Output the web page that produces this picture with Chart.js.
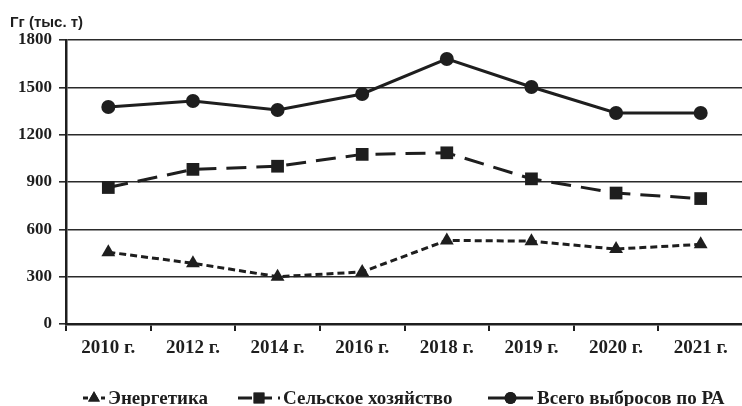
<!DOCTYPE html>
<html>
<head>
<meta charset="utf-8">
<script src="https://cdn.jsdelivr.net/npm/chart.js@4.4.0/dist/chart.umd.min.js"></script>
<style>
  html, body { margin: 0; padding: 0; background: #fff; overflow: hidden; }
  #wrap { width: 752px; height: 406px; }
</style>
</head>
<body>
<div id="wrap"><canvas id="chart" width="752" height="406"></canvas></div>
<script>
const years = ['2010 г.', '2012 г.', '2014 г.', '2016 г.', '2018 г.', '2019 г.', '2020 г.', '2021 г.'];
const energy = [455, 385, 300, 330, 530, 525, 475, 505];
const agriculture = [865, 980, 1000, 1075, 1085, 920, 830, 795];
const total = [1375, 1413, 1356, 1458, 1680, 1502, 1337, 1337];
const seriesNames = ['Энергетика', 'Сельское хозяйство', 'Всего выбросов по РА'];
const unitLabel = 'Гг (тыс. т)';
const yMin = 0, yMax = 1800, yStep = 300;

const ink = '#1e1e1e';
const serif = "'Liberation Serif', 'Times New Roman', serif";

// legend: line sample with marker, then text (x positions of each item)
const legendItems = [
    { ds: 0, x0: 83, x1: 105, text: 108 },
    { ds: 1, x0: 238, x1: 280, text: 283 },
    { ds: 2, x0: 488, x1: 533, text: 537 }
];

const extras = {
    id: 'extras',
    afterDraw(chart) {
        const ctx = chart.ctx;
        ctx.save();
        ctx.fillStyle = ink;
        ctx.font = "bold 15px 'Liberation Sans', Arial, sans-serif";
        ctx.textBaseline = 'alphabetic';
        ctx.fillText(unitLabel, 10, 27);

        const ly = 398;
        legendItems.forEach(item => {
            const ds = chart.data.datasets[item.ds];
            ctx.save();
            ctx.strokeStyle = ds.borderColor;
            ctx.lineWidth = ds.borderWidth;
            ctx.setLineDash(item.ds === 0 ? [5, 4] : item.ds === 1 ? [14, 6] : []);
            ctx.beginPath();
            ctx.moveTo(item.x0, ly);
            ctx.lineTo(item.x1, ly);
            ctx.stroke();
            ctx.restore();
            Chart.helpers.drawPoint(ctx, {
                pointStyle: ds.pointStyle,
                radius: ds.pointRadius * 0.85,
                borderWidth: 0
            }, (item.x0 + item.x1) / 2, ly);
            ctx.fillStyle = ink;
            ctx.fill();
            ctx.font = 'bold 19px ' + serif;
            ctx.textBaseline = 'alphabetic';
            ctx.fillText(seriesNames[item.ds], item.text, 404);
        });
        ctx.restore();
    }
};

const common = {
    borderColor: ink,
    backgroundColor: ink,
    pointBackgroundColor: ink,
    pointBorderColor: ink,
    pointBorderWidth: 0,
    borderWidth: 3,
    tension: 0,
    fill: false
};

new Chart(document.getElementById('chart'), {
    type: 'line',
    data: {
        labels: years,
        datasets: [
            Object.assign({}, common, {
                label: seriesNames[0], data: energy,
                borderDash: [7, 4], pointStyle: 'triangle', pointRadius: 8
            }),
            Object.assign({}, common, {
                label: seriesNames[1], data: agriculture,
                borderDash: [20, 10], pointStyle: 'rect', pointRadius: 9
            }),
            Object.assign({}, common, {
                label: seriesNames[2], data: total,
                pointStyle: 'circle', pointRadius: 7
            })
        ]
    },
    options: {
        responsive: false,
        animation: false,
        layout: { padding: { left: 0, top: 40, right: 2, bottom: 42 } },
        plugins: {
            legend: { display: false },
            tooltip: { enabled: false }
        },
        scales: {
            x: {
                offset: true,
                grid: {
                    offset: true,
                    drawOnChartArea: false,
                    drawTicks: true,
                    tickLength: 7,
                    color: ink,
                    lineWidth: 2
                },
                border: { color: ink, width: 2.5 },
                ticks: {
                    color: ink,
                    padding: 6,
                    maxRotation: 0,
                    autoSkip: false,
                    font: { family: serif, size: 19, weight: 'bold' }
                },
                afterFit(scale) { scale.height = 40; }
            },
            y: {
                min: yMin,
                max: yMax,
                grid: {
                    color: '#2a2a2a',
                    lineWidth: 1.6,
                    drawTicks: true,
                    tickLength: 7
                },
                border: { color: ink, width: 2.5 },
                ticks: {
                    stepSize: yStep,
                    color: ink,
                    padding: 7,
                    callback: v => String(v),
                    font: { family: serif, size: 17, weight: 'bold' }
                },
                afterFit(scale) { scale.width = 66; }
            }
        }
    },
    plugins: [extras]
});
</script>
</body>
</html>
